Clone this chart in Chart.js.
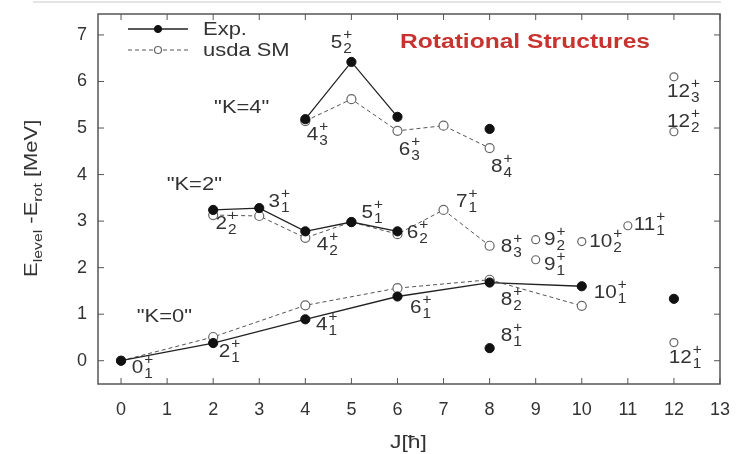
<!DOCTYPE html>
<html>
<head>
<meta charset="utf-8">
<script src="https://cdn.jsdelivr.net/npm/chart.js@4.4.0/dist/chart.umd.min.js"></script>
<style>
  html, body { margin: 0; padding: 0; background: #fff; }
  #wrap { width: 737px; height: 454px; }
</style>
</head>
<body>
<div id="wrap"><canvas id="chart" width="737" height="454"></canvas></div>
<script>
// axis ticks
const jTicks = [0, 1, 2, 3, 4, 5, 6, 7, 8, 9, 10, 11, 12, 13];
const eTicks = [0, 1, 2, 3, 4, 5, 6, 7];

// experiment (filled)
const expK0J = [0, 2, 4, 6, 8, 10];
const expK0E = [0, 0.38, 0.89, 1.38, 1.68, 1.6];
const expK2J = [2, 3, 4, 5, 6];
const expK2E = [3.24, 3.28, 2.78, 2.98, 2.78];
const expK4J = [4, 5, 6];
const expK4E = [5.19, 6.42, 5.24];
const expOtherJ = [8, 8, 12];
const expOtherE = [4.98, 0.27, 1.33];

// usda shell model (open)
const smK0J = [0, 2, 4, 6, 8, 10];
const smK0E = [0, 0.51, 1.19, 1.56, 1.74, 1.18];
const smK2J = [2, 3, 4, 5, 6, 7, 8];
const smK2E = [3.13, 3.11, 2.64, 2.98, 2.72, 3.24, 2.47];
const smK4J = [4, 5, 6, 7, 8];
const smK4E = [5.15, 5.62, 4.94, 5.05, 4.57];
const smOtherJ = [9, 9, 10, 11, 12, 12, 12];
const smOtherE = [2.6, 2.17, 2.56, 2.9, 6.1, 4.92, 0.39];

// level names: [J, index, J pos, E pos]
const levelLabels = [
  ['0', '1', 0.23, -0.15], ['2', '1', 2.12, 0.19], ['4', '1', 4.23, 0.77],
  ['6', '1', 6.27, 1.14], ['8', '2', 8.24, 1.31], ['10', '1', 10.26, 1.46],
  ['8', '1', 8.24, 0.52], ['12', '1', 11.89, 0.06],
  ['2', '2', 2.05, 2.94], ['3', '1', 3.2, 3.41], ['4', '2', 4.25, 2.49],
  ['5', '1', 5.22, 3.18], ['6', '2', 6.2, 2.75], ['7', '1', 7.27, 3.41],
  ['8', '3', 8.24, 2.45], ['9', '2', 9.18, 2.6], ['10', '2', 10.16, 2.55],
  ['11', '1', 11.13, 2.92], ['9', '1', 9.18, 2.06],
  ['4', '3', 4.03, 4.85], ['5', '2', 4.55, 6.82], ['6', '3', 6.03, 4.53],
  ['8', '4', 8.03, 4.16], ['12', '3', 11.85, 5.77], ['12', '2', 11.85, 5.13]
];
const bandLabels = [['"K=0"', 0.34, 0.94], ['"K=2"', 0.99, 3.78], ['"K=4"', 2.02, 5.43]];

const FONT = "'Liberation Sans', Arial, Helvetica, sans-serif";
const pts = (xs, ys) => xs.map((x, i) => ({ x: x, y: ys[i] }));

const expStyle = {
  borderColor: '#222', borderWidth: 1.3,
  pointRadius: 4.6, pointBackgroundColor: '#111', pointBorderColor: '#111', pointBorderWidth: 1
};
const smStyle = {
  borderColor: '#555', borderWidth: 1, borderDash: [4, 3],
  pointRadius: 4.5, pointBackgroundColor: '#fff', pointBorderColor: '#666', pointBorderWidth: 1.2
};

function txt(ctx, s, x, y, size, sx, color, weight) {
  ctx.save();
  ctx.font = (weight || '') + ' ' + size + 'px ' + FONT;
  ctx.fillStyle = color || '#333';
  ctx.textBaseline = 'middle';
  ctx.textAlign = 'left';
  const w = ctx.measureText(s).width * sx;
  ctx.translate(x, y);
  ctx.scale(sx, 1);
  ctx.fillText(s, 0, 0);
  ctx.restore();
  return w;
}

const decor = {
  id: 'decor',
  beforeDraw(chart) {
    const ctx = chart.ctx;
    ctx.save();
    ctx.fillStyle = '#fff';
    ctx.fillRect(0, 0, chart.width, chart.height);
    ctx.strokeStyle = '#e4e4e4';
    ctx.lineWidth = 2;
    ctx.beginPath(); ctx.moveTo(33, 2); ctx.lineTo(721, 2); ctx.stroke();
    ctx.restore();
  },
  afterDraw(chart) {
    const ctx = chart.ctx, a = chart.chartArea;
    const xs = chart.scales.x, ys = chart.scales.y;
    ctx.save();
    // frame + inward ticks
    ctx.strokeStyle = '#555';
    ctx.lineWidth = 1.5;
    ctx.strokeRect(a.left, a.top, a.right - a.left, a.bottom - a.top);
    ctx.lineWidth = 1;
    ctx.beginPath();
    xs.ticks.forEach(t => {
      const p = xs.getPixelForValue(t.value);
      ctx.moveTo(p, a.bottom); ctx.lineTo(p, a.bottom - 6);
      ctx.moveTo(p, a.top); ctx.lineTo(p, a.top + 6);
    });
    ys.ticks.forEach(t => {
      const p = ys.getPixelForValue(t.value);
      ctx.moveTo(a.left, p); ctx.lineTo(a.left + 6, p);
      ctx.moveTo(a.right, p); ctx.lineTo(a.right - 6, p);
    });
    ctx.stroke();

    // legend
    const legend = [['Exp.', chart.data.datasets[0]], ['usda SM', chart.data.datasets[4]]];
    legend.forEach((it, i) => {
      const d = it[1], y = a.top + 15 + i * 21;
      ctx.save();
      ctx.strokeStyle = d.borderColor; ctx.lineWidth = d.borderWidth;
      ctx.setLineDash(d.borderDash || []);
      ctx.beginPath(); ctx.moveTo(a.left + 30, y); ctx.lineTo(a.left + 90, y); ctx.stroke();
      ctx.setLineDash([]);
      ctx.beginPath(); ctx.arc(a.left + 60, y, d.pointRadius - 1, 0, Math.PI * 2);
      ctx.fillStyle = d.pointBackgroundColor; ctx.fill();
      ctx.strokeStyle = d.pointBorderColor; ctx.lineWidth = d.pointBorderWidth; ctx.stroke();
      ctx.restore();
      txt(ctx, it[0], a.left + 105, y + 1, 18, 1.22, '#333');
    });

    // level names
    levelLabels.forEach(l => {
      const x = xs.getPixelForValue(l[2]), y = ys.getPixelForValue(l[3]);
      const w = txt(ctx, l[0], x, y, 18, 1.15, '#333');
      txt(ctx, '+', x + w + 1, y - 8, 14, 1.1, '#333');
      txt(ctx, l[1], x + w + 1, y + 6, 14, 1.1, '#333');
    });
    bandLabels.forEach(l => {
      txt(ctx, l[0], xs.getPixelForValue(l[1]), ys.getPixelForValue(l[2]), 18, 1.22, '#333');
    });

    // title
    ctx.save();
    ctx.font = 'bold 21px ' + FONT;
    const tw = ctx.measureText('Rotational Structures').width;
    ctx.restore();
    txt(ctx, 'Rotational Structures', 400, 42, 21, 250 / tw, '#c8332f', 'bold');

    // axis titles
    txt(ctx, 'J[ħ]', 390, 443, 18, 1.27, '#333');
    ctx.save();
    ctx.translate(32, 277);
    ctx.rotate(-Math.PI / 2);
    let x = 0;
    x += txt(ctx, 'E', x, 0, 18, 1.22, '#333');
    x += txt(ctx, 'level', x, 6, 13, 1.22, '#333');
    x += txt(ctx, ' -E', x, 0, 18, 1.22, '#333');
    x += txt(ctx, 'rot', x, 6, 13, 1.22, '#333');
    txt(ctx, ' [MeV]', x, 0, 18, 1.22, '#333');
    ctx.restore();
    ctx.restore();
  }
};

new Chart(document.querySelector('#chart'), {
  type: 'scatter',
  data: {
    datasets: [
      { data: pts(expK0J, expK0E), showLine: true, ...expStyle },
      { data: pts(expK2J, expK2E), showLine: true, ...expStyle },
      { data: pts(expK4J, expK4E), showLine: true, ...expStyle },
      { data: pts(expOtherJ, expOtherE), showLine: false, ...expStyle },
      { data: pts(smK0J, smK0E), showLine: true, ...smStyle },
      { data: pts(smK2J, smK2E), showLine: true, ...smStyle },
      { data: pts(smK4J, smK4E), showLine: true, ...smStyle },
      { data: pts(smOtherJ, smOtherE), showLine: false, ...smStyle, pointRadius: 4 }
    ]
  },
  options: {
    responsive: false,
    animation: false,
    devicePixelRatio: 1,
    layout: { padding: { left: 0, right: 16, top: 14, bottom: 0 } },
    plugins: { legend: { display: false }, tooltip: { enabled: false } },
    scales: {
      x: {
        type: 'linear', min: -0.5, max: 13,
        grid: { display: false }, border: { display: false },
        ticks: { font: { size: 18, family: FONT }, color: '#333', padding: 7 },
        afterBuildTicks: s => { s.ticks = jTicks.map(v => ({ value: v })); },
        afterFit: s => { s.height = 70; }
      },
      y: {
        type: 'linear', min: -0.5, max: 7.45,
        grid: { display: false }, border: { display: false },
        ticks: { font: { size: 18, family: FONT }, color: '#333', padding: 3 },
        afterBuildTicks: s => { s.ticks = eTicks.map(v => ({ value: v })); },
        afterFit: s => { s.width = 98; }
      }
    }
  },
  plugins: [decor]
});
</script>
</body>
</html>
